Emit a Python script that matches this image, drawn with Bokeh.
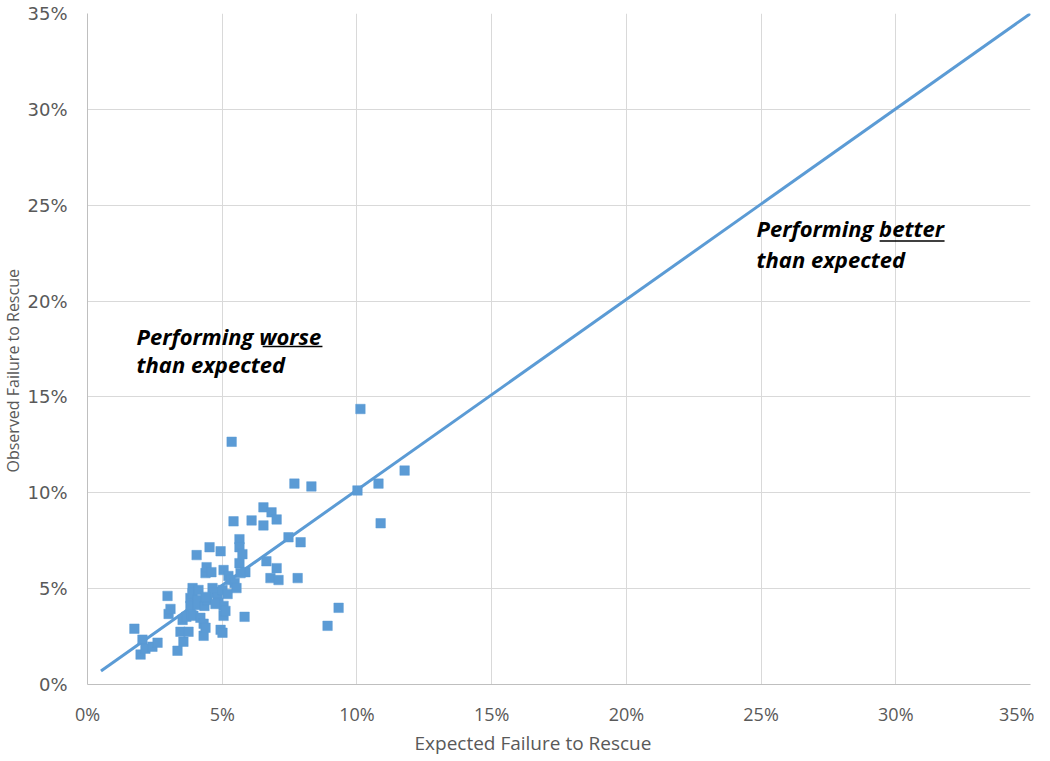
from bokeh.plotting import figure
from bokeh.models import Range1d, FixedTicker, PrintfTickFormatter, Label, Title
from bokeh.embed import file_html
from bokeh.resources import INLINE

# Expected vs observed failure-to-rescue rates (percent)
expected = [1.74, 1.97, 2.04, 2.15, 2.41, 2.60, 2.97, 3.01, 3.08, 3.34,
            3.45, 3.56, 3.53, 3.75, 3.67, 3.82, 3.82, 3.86, 3.90, 3.90,
            3.93, 4.05, 4.08, 4.08, 4.19, 4.31, 4.31, 4.38, 4.34, 4.38,
            4.42, 4.45, 4.53, 4.60, 4.64, 4.68, 4.83, 4.86, 4.94, 4.94,
            5.01, 5.01, 5.05, 5.05, 5.05, 5.12, 5.20, 5.23, 5.35, 5.42,
            5.31, 5.46, 5.53, 5.64, 5.64, 5.64, 5.75, 5.86, 5.83, 5.68,
            6.09, 6.53, 6.53, 6.64, 6.83, 6.79, 7.02, 7.02, 7.09, 7.46,
            7.68, 7.80, 7.91, 8.31, 8.91, 9.32, 10.02, 10.13, 10.80, 10.88,
            11.77, 4.12, 4.75, 4.38]
observed = [2.91, 1.56, 2.34, 1.87, 1.97, 2.18, 4.62, 3.68, 3.94, 1.76,
            2.75, 2.23, 3.37, 2.75, 3.53, 4.51, 4.10, 3.63, 5.03, 4.77,
            3.58, 6.75, 4.41, 4.15, 3.48, 3.17, 2.54, 2.96, 4.10, 5.81,
            6.12, 4.41, 7.16, 5.86, 5.03, 4.77, 4.51, 4.26, 6.95, 2.85,
            2.70, 4.93, 5.97, 4.10, 3.58, 3.84, 4.72, 5.66, 12.66, 8.51,
            5.45, 5.29, 5.03, 7.58, 7.16, 6.33, 6.80, 5.86, 3.53, 5.81,
            8.56, 9.24, 8.30, 6.43, 8.98, 5.55, 8.61, 6.07, 5.45, 7.68,
            10.48, 5.55, 7.42, 10.33, 3.06, 4.00, 10.12, 14.37, 10.48, 8.41,
            11.16, 4.93, 4.20, 4.57]

# Reference line (observed = expected)
ref_x = [0.5, 35.0]
ref_y = [0.7, 35.0]

tick_values = [0, 5, 10, 15, 20, 25, 30, 35]

x_title = "Expected Failure to Rescue"
y_title = "Observed  Failure to Rescue"

BLUE = "#5B9BD5"
GRID = "#D9D9D9"
TICK_TEXT = "#595959"

p = figure(width=1034, height=756, output_backend="svg", toolbar_location=None,
           x_range=Range1d(0, 35), y_range=Range1d(0, 35),
           min_border_left=79, min_border_right=4, min_border_top=13,
           min_border_bottom=70)
p.outline_line_color = None
p.background_fill_color = "white"
p.border_fill_color = "white"

p.xgrid.grid_line_color = GRID
p.ygrid.grid_line_color = GRID
p.xgrid.ticker = FixedTicker(ticks=tick_values)
p.ygrid.ticker = FixedTicker(ticks=tick_values)

for ax in (p.xaxis[0], p.yaxis[0]):
    ax.ticker = FixedTicker(ticks=tick_values)
    ax.formatter = PrintfTickFormatter(format="%d%%")
    ax.major_tick_line_color = None
    ax.minor_tick_line_color = None
    ax.major_tick_out = 0
    ax.major_tick_in = 0
    ax.axis_line_color = "#BFBFBF"
    ax.major_label_text_color = TICK_TEXT

p.xaxis.major_label_text_font = "Open Sans"
p.xaxis.major_label_text_font_size = "18px"
p.xaxis.major_label_standoff = 17

p.yaxis.major_label_text_font = "DejaVu Sans"
p.yaxis.major_label_text_font_size = "18px"
p.yaxis.major_label_standoff = 20

# Axis titles, offset from the plot-area centre as in the original
p.add_layout(Title(text=x_title, text_font="Open Sans", text_font_size="19px",
                   text_font_style="normal", text_color=TICK_TEXT,
                   align="left", offset=327, standoff=0,
                   vertical_align="middle"), "below")
p.add_layout(Title(text=y_title, text_font="Open Sans", text_font_size="16px",
                   text_font_style="normal", text_color=TICK_TEXT,
                   align="left", offset=212, standoff=0,
                   vertical_align="middle"), "left")

p.line(ref_x, ref_y, line_color=BLUE, line_width=3)
p.scatter(expected, observed, marker="square", size=9.5,
          fill_color=BLUE, line_color=BLUE, line_width=0.5)

# Annotations
ann_font = "Open Sans"
ann_size = "22px"
notes = [
    (1.82, 18.20, "Performing worse"),
    (1.82, 16.74, "than expected"),
    (24.83, 23.81, "Performing better"),
    (24.83, 22.20, "than expected"),
]
for nx, ny, txt in notes:
    p.add_layout(Label(x=nx, y=ny, text=txt, text_font=ann_font,
                       text_font_size=ann_size, text_font_style="bold italic",
                       text_color="black", text_baseline="middle",
                       text_align="left"))

# Underlines under the emphasized words
ul_x0 = [6.50, 29.40]
ul_x1 = [8.72, 31.81]
ul_y = [17.63, 23.13]
p.segment(ul_x0, ul_y, ul_x1, ul_y, line_color="black", line_width=1.5)

open("out.html", "w").write(file_html(p, INLINE))
